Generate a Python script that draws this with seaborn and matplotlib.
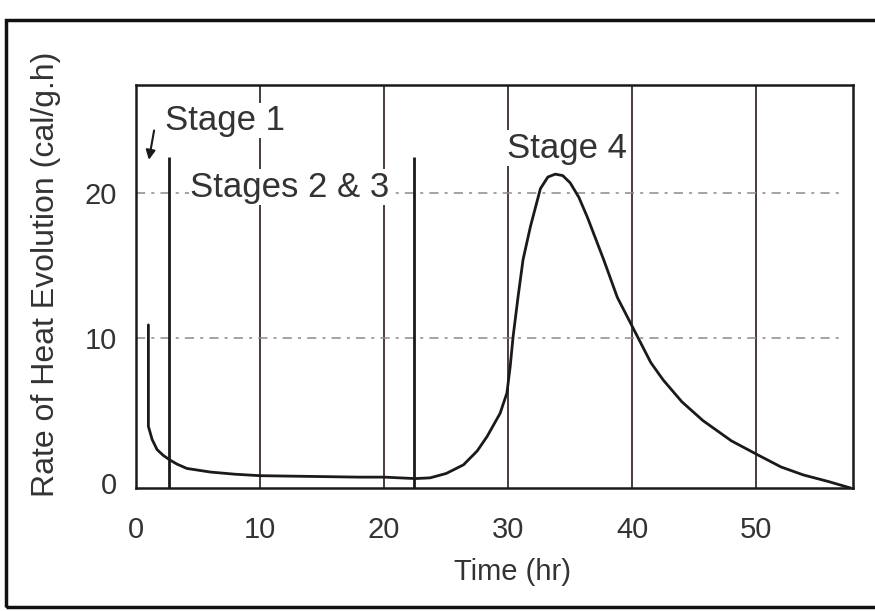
import matplotlib
matplotlib.use("Agg")
import matplotlib.pyplot as plt
import seaborn as sns
import pandas as pd
from matplotlib.patches import Rectangle

# ---- data ----
time_hr = [1.0, 1.0, 1.3, 1.7, 2.2, 2.7, 3.3, 4.1, 6.0, 8.0, 10.0, 14.0, 18.0,
           20.0, 22.5, 23.7, 25.0, 26.4, 27.5, 28.3, 29.35, 29.9, 30.16, 30.4,
           30.8, 31.2, 31.8, 32.6, 33.2, 33.8, 34.4, 35.0, 35.7, 36.4, 37.7,
           38.8, 40.0, 41.5, 42.5, 44.0, 45.7, 48.0, 50.2, 52.0, 53.8, 55.8,
           57.6]
heat_rate = [10.9, 3.9, 3.0, 2.3, 1.9, 1.6, 1.3, 1.0, 0.75, 0.6, 0.5, 0.45, 0.4,
             0.4, 0.3, 0.35, 0.65, 1.25, 2.2, 3.2, 4.8, 6.2, 8.0, 10.1,
             12.85, 15.4, 17.7, 20.3, 21.1, 21.3, 21.2, 20.7, 19.7, 18.3, 15.4,
             12.8, 10.8, 8.3, 7.1, 5.6, 4.3, 2.9, 1.9, 1.1, 0.55, 0.1,
             -0.35]

stage_bounds = [2.7, 22.4]
stage_top = 22.5
x_ticks = [0, 10, 20, 30, 40, 50]
y_ticks = [0, 10, 20]
stage_labels = ["Stage 1", "Stages 2 & 3", "Stage 4"]

df = pd.DataFrame({"Time (hr)": time_hr, "Rate": heat_rate})

sns.set_theme(style="white")
plt.rcParams["font.family"] = ["Liberation Sans", "DejaVu Sans"]

fig = plt.figure(figsize=(8.75, 6.11), dpi=100)
ax = fig.add_axes([0.1554, 0.2013, 0.8195, 0.6596])

txt_col = "#333333"
line_col = "#1a1a1a"

# grid
for xv in x_ticks[1:]:
    ax.axvline(xv, color="#3a2a35", lw=1.3, zorder=1)
for yv in y_ticks[1:]:
    ax.axhline(yv, xmin=0.0, xmax=0.985, color="#8a8a8a", lw=1.1,
               ls=(0, (6, 4, 2, 4)), zorder=1)

# stage boundaries
ax.vlines(stage_bounds, ymin=-0.35, ymax=stage_top, color=line_col, lw=2.0, zorder=2)

sns.lineplot(data=df, x="Time (hr)", y="Rate", sort=False, estimator=None,
             color=line_col, lw=2.0, ax=ax, zorder=3)

ax.set_xlim(0, 57.8)
ax.set_ylim(-0.35, 27.45)
ax.set_xticks(x_ticks)
ax.set_yticks(y_ticks)
ax.tick_params(axis="both", length=0, labelsize=21, colors=txt_col)
ax.tick_params(axis="x", pad=20)
ax.tick_params(axis="y", pad=14)

for s in ax.spines.values():
    s.set_color(line_col)
    s.set_linewidth(1.8)

ax.set_xlabel("")
ax.set_ylabel("")
fig.text(512 / 875, 1 - 572 / 611, "Time (hr)", ha="center", va="center",
         fontsize=21, color=txt_col)
fig.text(46 / 875, 1 - 274 / 611, "Rate of Heat Evolution (cal/g.h)",
         ha="center", va="center", rotation=90, fontsize=23, color=txt_col)

bb = dict(facecolor="white", edgecolor="none", pad=1)
ax.text(2.3, 25.0, stage_labels[0], ha="left", va="center", fontsize=25,
        color=txt_col, bbox=bb, zorder=4)
ax.text(4.35, 20.4, stage_labels[1], ha="left", va="center", fontsize=25,
        color=txt_col, bbox=bb, zorder=4)
ax.text(29.9, 23.1, stage_labels[2], ha="left", va="center", fontsize=25,
        color=txt_col, bbox=bb, zorder=4)
ax.annotate("", xy=(1.0, 22.1), xytext=(1.5, 24.5),
            arrowprops=dict(arrowstyle="-|>", color=line_col, lw=1.5,
                            mutation_scale=14), zorder=4)

# outer frame
fig.patches.append(Rectangle((6 / 875, 4 / 611), 1.0, 1 - 24 / 611,
                             transform=fig.transFigure, fill=False,
                             edgecolor="#111111", lw=2.5))

fig.savefig("out.png", dpi=100)
